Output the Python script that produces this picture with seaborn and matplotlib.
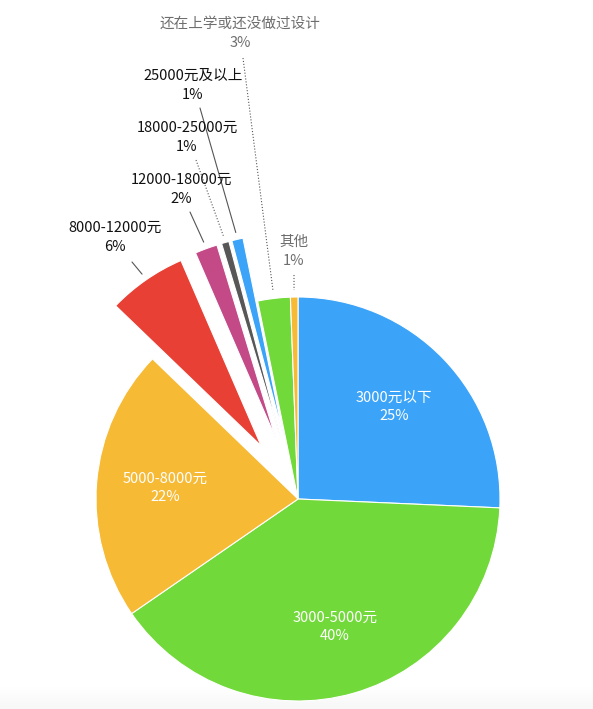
import numpy as np
import matplotlib
matplotlib.use("Agg")
import matplotlib.pyplot as plt
from matplotlib.colors import LinearSegmentedColormap
import seaborn as sns

# data (share of respondents, %)
categories = ["3000元以下", "3000-5000元", "5000-8000元", "8000-12000元", "12000-18000元",
              "18000-25000元", "25000元及以上", "还在上学或还没做过设计", "其他"]
values = [25.7, 39.7, 21.8, 6.3, 1.8, 0.6, 0.9, 2.6, 0.6]
pct_labels = ["25%", "40%", "22%", "6%", "2%", "1%", "1%", "3%", "1%"]
colors = ["#3BA3F8", "#72D93A", "#F6BA35", "#E84034", "#C34A87",
          "#575757", "#3BA3F8", "#72D93A", "#F6BA35"]
explode = [0, 0, 0, 0.32, 0.32, 0.32, 0.32, 0, 0]  # fraction of radius
inside = [True, True, True, False, False, False, False, False, False]

# layout of the outside labels (pixel coords from the top-left), leader line styles
W, H = 593, 709
outside_text = {3: (115, 228), 4: (181, 180), 5: (187, 128), 6: (193, 76), 7: (240, 24), 8: (294, 242)}
line_start = {3: (132, 262), 4: (190, 212), 5: (196, 160), 6: (200, 108), 7: (243, 58), 8: (294, 275)}
line_style = {3: "-", 4: "-", 5: ":", 6: "-", 7: ":", 8: ":"}
text_color = {3: "#111111", 4: "#111111", 5: "#111111", 6: "#111111", 7: "#6e6e6e", 8: "#6e6e6e"}

sns.set_theme(style="white")
plt.rcParams["font.family"] = ["Noto Sans CJK SC", "DejaVu Sans"]

CX, CY, R = 298, H - 499, 202
FS = 10.5

fig = plt.figure(figsize=(W / 100, H / 100), dpi=100)
ax = fig.add_axes([0, 0, 1, 1])
# matplotlib offsets exploded wedges in data units, so scale by the radius
wedges, _ = ax.pie(values, colors=colors, explode=[e * R for e in explode], startangle=90,
                   counterclock=False, center=(CX, CY), radius=R,
                   wedgeprops=dict(edgecolor="white", linewidth=0.8))
ax.set_xlim(0, W)
ax.set_ylim(0, H)
ax.set_aspect("auto")
ax.axis("off")

# faint shade along the bottom edge
shade = LinearSegmentedColormap.from_list("shade", ["#f7f7f7", "#ffffff"])
grad = np.linspace(1, 0, 50).reshape(-1, 1)
ax.imshow(grad, extent=[0, W, 0, 22], cmap=shade, aspect="auto", zorder=0, vmin=0, vmax=1)

for i, w in enumerate(wedges):
    mid = np.deg2rad((w.theta1 + w.theta2) / 2)
    dx, dy = np.cos(mid), np.sin(mid)
    if inside[i]:
        x, y = CX + 0.66 * R * dx, CY + 0.66 * R * dy
        ax.text(x, y + 9, categories[i], color="white", fontsize=FS, ha="center", va="center")
        ax.text(x, y - 9, pct_labels[i], color="white", fontsize=FS, ha="center", va="center")
    else:
        tx, ty = outside_text[i]
        ax.text(tx, H - ty, categories[i], color=text_color[i], fontsize=FS, ha="center", va="center")
        ax.text(tx, H - ty - 19, pct_labels[i], color=text_color[i], fontsize=FS, ha="center", va="center")
        r_end = R * (1 + explode[i]) + 7
        ex, ey = CX + r_end * dx, CY + r_end * dy
        sx, sy = line_start[i]
        ax.plot([sx, ex], [H - sy, ey], color="#555555", lw=0.8, ls=line_style[i])

fig.savefig("out.png", dpi=100)
